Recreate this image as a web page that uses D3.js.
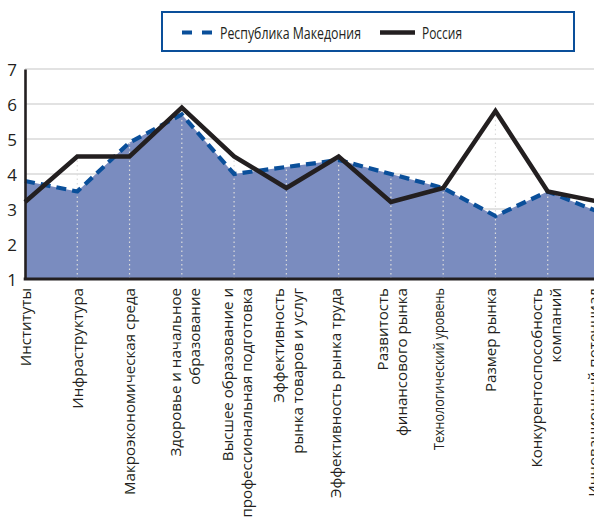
<!DOCTYPE html>
<html>
<head>
<meta charset="utf-8">
<script src="https://cdn.jsdelivr.net/npm/d3@7"></script>
<style>
  html, body { margin: 0; padding: 0; background: #fff; overflow: hidden; }
  svg { display: block; }
</style>
</head>
<body>
<svg id="chart" width="594" height="520"></svg>
<script>
// Global competitiveness pillars (scores 1–7)
const categories = [
  ["Институты"],
  ["Инфраструктура"],
  ["Макроэкономическая среда"],
  ["Здоровье и начальное", "образование"],
  ["Высшее образование и", "профессиональная подготовка"],
  ["Эффективность", "рынка товаров и услуг"],
  ["Эффективность рынка труда"],
  ["Развитость", "финансового рынка"],
  ["Технологический уровень"],
  ["Размер рынка"],
  ["Конкурентоспособность", "компаний"],
  ["Инновационный потенциал"]
];
const macedonia = [3.8, 3.5, 4.9, 5.7, 4.0, 4.2, 4.4, 4.0, 3.6, 2.8, 3.5, 2.9];
const russia    = [3.2, 4.5, 4.5, 5.9, 4.5, 3.6, 4.5, 3.2, 3.6, 5.8, 3.5, 3.2];
const yTicks = [1, 2, 3, 4, 5, 6, 7];
const seriesNames = ["Республика Македония", "Россия"];

const svg = d3.select("#chart");
const W = 594;
const idx = categories.map((d, i) => i);

const x = d3.scalePoint().domain(idx).range([25, 600]);
// label band runs on a slightly tighter pitch than the data points
const xLabel = d3.scalePoint().domain(idx).range([26, 593.6]);
const y = d3.scaleLinear().domain([1, 7]).range([279, 69]);

// horizontal gridlines
svg.append("g").selectAll("line")
  .data(yTicks.filter(t => t > 1))
  .join("line")
  .attr("x1", x(0)).attr("x2", W)
  .attr("y1", d => y(d)).attr("y2", d => y(d))
  .attr("stroke", "#d9d9d9").attr("stroke-width", 1.6);

// filled area under the Macedonia series
const area = d3.area()
  .x((d, i) => x(i))
  .y0(y(1))
  .y1(d => y(d));
svg.append("path")
  .datum(macedonia)
  .attr("d", area)
  .attr("fill", "#7a8cbf");

// dotted drop lines from the higher of the two values
svg.append("g").selectAll("line")
  .data(idx.slice(1))
  .join("line")
  .attr("x1", i => x(i)).attr("x2", i => x(i))
  .attr("y1", y(1))
  .attr("y2", i => y(Math.max(macedonia[i], russia[i])))
  .attr("stroke", "#dcdcdc")
  .attr("stroke-width", 1.2)
  .attr("stroke-dasharray", "1.5,3");

const line = d3.line().x((d, i) => x(i)).y(d => y(d));

svg.append("path")
  .datum(macedonia)
  .attr("d", line)
  .attr("fill", "none")
  .attr("stroke", "#0a4f9a")
  .attr("stroke-width", 4.2)
  .attr("stroke-dasharray", "10,6");

svg.append("path")
  .datum(russia)
  .attr("d", line)
  .attr("fill", "none")
  .attr("stroke", "#231f20")
  .attr("stroke-width", 4.5)
  .attr("stroke-linejoin", "miter");

// axes
const yAxis = d3.axisLeft(y).tickValues(yTicks).tickSize(0).tickPadding(8).tickFormat(d3.format("d"));
const gy = svg.append("g").attr("transform", `translate(${x(0)},0)`).call(yAxis);
gy.select(".domain").attr("stroke", "#231f20").attr("stroke-width", 2.6);
gy.selectAll("text")
  .attr("font-family", "'Open Sans', 'Noto Sans', sans-serif")
  .attr("font-size", 17)
  .attr("fill", "#231f20")
  .attr("dy", "0.36em");

svg.append("line")
  .attr("x1", x(0) - 1.3).attr("x2", W)
  .attr("y1", y(1)).attr("y2", y(1))
  .attr("stroke", "#231f20").attr("stroke-width", 3);

// rotated category labels
const labels = svg.append("g")
  .attr("font-family", "'Open Sans', 'Noto Sans', sans-serif")
  .attr("font-size", 15.1)
  .attr("fill", "#231f20");
idx.forEach(i => {
  const lines = categories[i];
  const t = labels.append("text")
    .attr("transform", `translate(${xLabel(i)},288) rotate(-90)`)
    .attr("text-anchor", "end");
  const offs = lines.length > 1 ? [-5, 14] : [0];
  lines.forEach((s, k) => {
    const ts = t.append("tspan")
      .attr("x", 0)
      .attr("y", offs[k])
      .attr("dy", "0.36em")
      .text(s);
    if (s === "Технологический уровень") {
      ts.attr("textLength", 162).attr("lengthAdjust", "spacingAndGlyphs");
    }
  });
});

// legend
const lg = svg.append("g");
lg.append("rect")
  .attr("x", 162).attr("y", 12).attr("width", 412).attr("height", 39)
  .attr("fill", "#fff").attr("stroke", "#0a4f9a").attr("stroke-width", 2);
lg.append("line")
  .attr("x1", 182).attr("x2", 212).attr("y1", 32.5).attr("y2", 32.5)
  .attr("stroke", "#0a4f9a").attr("stroke-width", 4.2).attr("stroke-dasharray", "10,10");
lg.append("line")
  .attr("x1", 380).attr("x2", 415).attr("y1", 32.5).attr("y2", 32.5)
  .attr("stroke", "#231f20").attr("stroke-width", 4.5);
const legFont = "'Open Sans', 'Noto Sans', sans-serif";
lg.append("text").attr("x", 220).attr("y", 33).attr("dy", "0.36em")
  .attr("font-family", legFont).attr("font-size", 16.5).attr("fill", "#231f20")
  .attr("textLength", 141).attr("lengthAdjust", "spacingAndGlyphs")
  .text(seriesNames[0]);
lg.append("text").attr("x", 422).attr("y", 33).attr("dy", "0.36em")
  .attr("font-family", legFont).attr("font-size", 16.5).attr("fill", "#231f20")
  .attr("textLength", 40).attr("lengthAdjust", "spacingAndGlyphs")
  .text(seriesNames[1]);
</script>
</body>
</html>
